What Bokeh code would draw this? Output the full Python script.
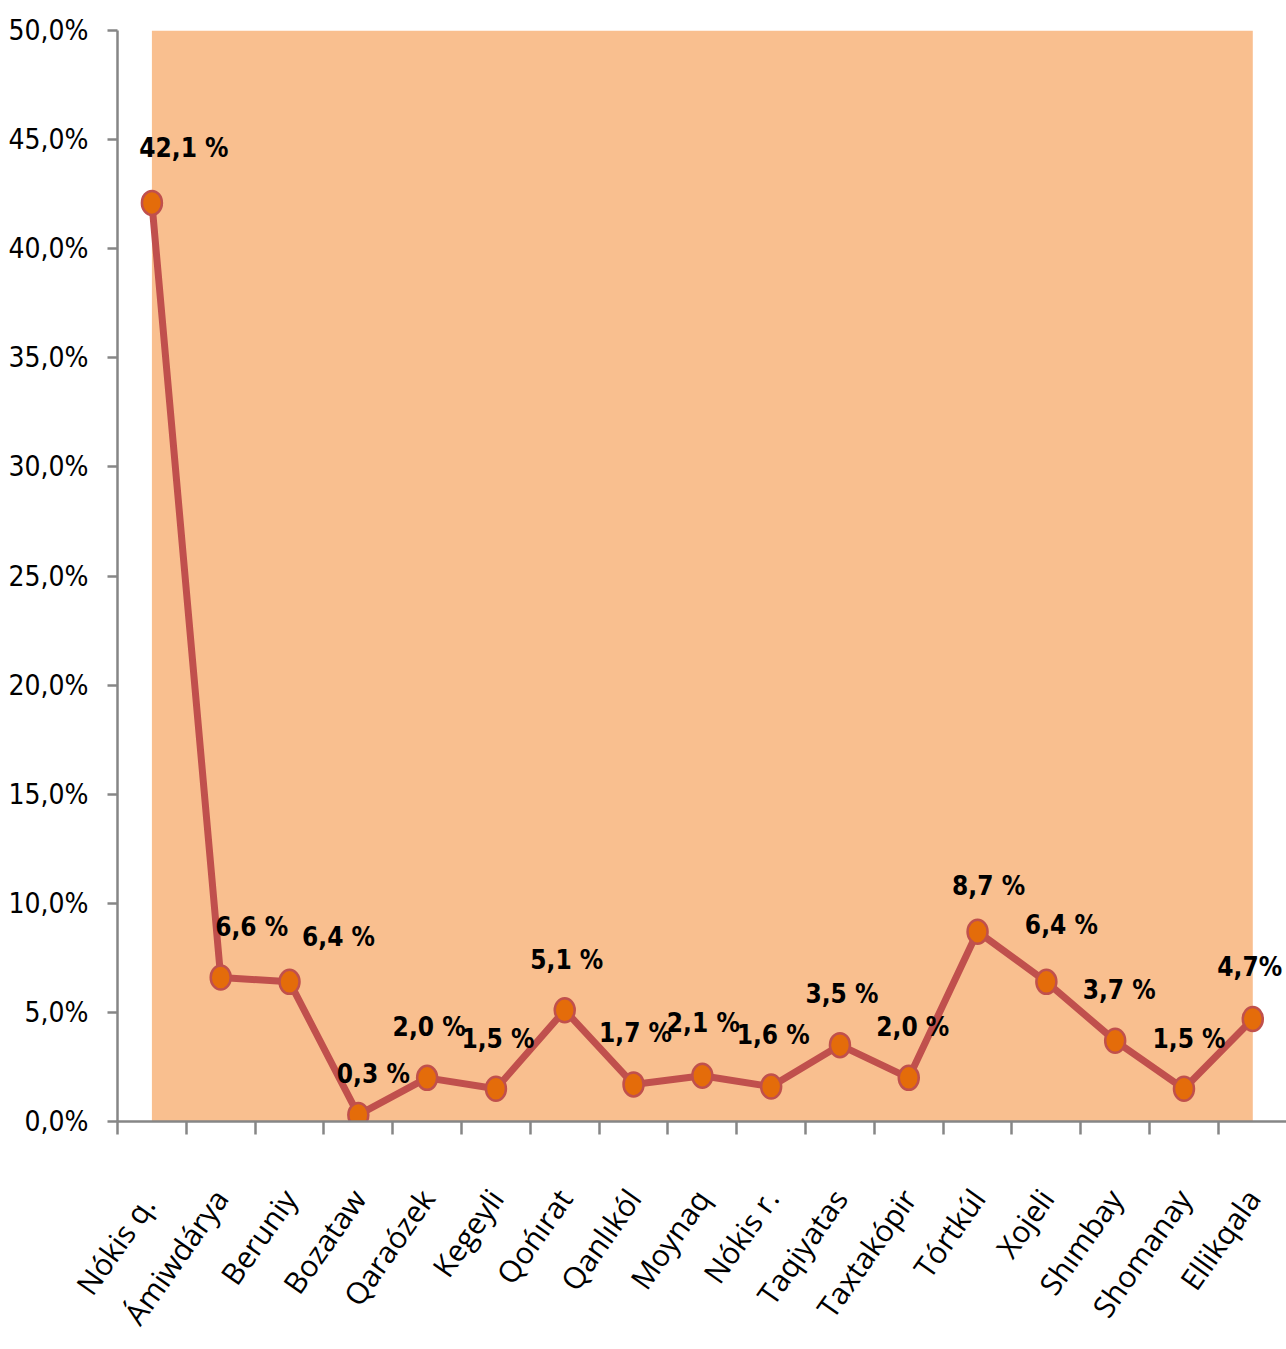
from bokeh.plotting import figure
from bokeh.models import Range1d, FixedTicker, ColumnDataSource
from bokeh.core.properties import value
from bokeh.embed import file_html
from bokeh.resources import INLINE
import math

# ---- data ----
districts = ["Nókis  q.", "Ámiwdárya", "Beruniy", "Bozataw", "Qaraózek", "Kegeyli",
             "Qońırat", "Qanlıkól", "Moynaq", "Nókis r.", "Taqiyatas", "Taxtakópir",
             "Tórtkúl", "Xojeli", "Shımbay", "Shomanay", "Ellikqala"]
shares = [42.1, 6.6, 6.4, 0.3, 2.0, 1.5, 5.1, 1.7, 2.1, 1.6, 3.5, 2.0, 8.7, 6.4, 3.7, 1.5, 4.7]
share_labels = ["42,1 %", "6,6 %", "6,4 %", "0,3 %", "2,0 %", "1,5 %", "5,1 %", "1,7 %",
                "2,1 %", "1,6 %", "3,5 %", "2,0 %", "8,7 %", "6,4 %", "3,7 %", "1,5 %", "4,7%"]
y_ticks = [0, 5, 10, 15, 20, 25, 30, 35, 40, 45, 50]
y_tick_labels = ["0,0%", "5,0%", "10,0%", "15,0%", "20,0%", "25,0%", "30,0%", "35,0%",
                 "40,0%", "45,0%", "50,0%"]

# ---- styles (label nudges in pixels) ----
label_dx = [32, 31, 49, 15, 2, 2, 2, 2, 1, 2, 2, 4, 11, 15, 4, 5, -3]
label_dy = [-55, -50, -45, -41, -51, -50, -50, -51, -53, -52, -51, -51, -46, -57, -51, -50, -52]

COND = "DejaVu Sans Condensed"
Y_MAX = y_ticks[-1]
idx = list(range(len(districts)))

src = ColumnDataSource(dict(x=idx, y=shares, lab=share_labels, dx=label_dx, dy=label_dy))

p = figure(width=1286, height=1349, output_backend="svg", toolbar_location=None,
           x_range=Range1d(-0.5, 16.49), y_range=Range1d(0, Y_MAX),
           min_border_left=117, min_border_top=30, min_border_right=0, min_border_bottom=228)
p.outline_line_color = None
p.grid.visible = False
p.background_fill_color = "white"

# peach area behind the series
p.varea(x=idx, y1=0, y2=Y_MAX, fill_color="#F9BF8F", fill_alpha=1.0)

p.line("x", "y", source=src, line_color="#C0504D", line_width=7)
p.ellipse("x", "y", source=src, width=20, height=24, width_units="screen", height_units="screen",
          fill_color="#E46C0A", line_color="#C0504D", line_width=2.5)

p.text("x", "y", text="lab", source=src, x_offset="dx", y_offset="dy",
       text_align="center", text_baseline="middle",
       text_font=value(COND), text_font_style="bold",
       text_font_size="26px", text_color="black")

# y axis
ya = p.yaxis[0]
ya.ticker = FixedTicker(ticks=y_ticks)
ya.major_label_overrides = {t: l for t, l in zip(y_ticks, y_tick_labels)}
ya.axis_line_color = "#868686"
ya.axis_line_width = 2.5
ya.major_tick_line_color = "#868686"
ya.major_tick_line_width = 2.5
ya.major_tick_out = 10
ya.major_tick_in = 0
ya.minor_tick_line_color = None
ya.major_label_standoff = 19
ya.major_label_text_font = COND
ya.major_label_text_font_size = "28px"
ya.major_label_text_color = "black"

# x axis: labels at centres, tick marks between categories
xa = p.xaxis[0]
xa.ticker = FixedTicker(ticks=idx, minor_ticks=[i - 0.5 for i in idx])
xa.major_label_overrides = {i: d for i, d in zip(idx, districts)}
xa.axis_line_color = "#868686"
xa.axis_line_width = 2.5
xa.major_tick_line_color = None
xa.major_tick_out = 0
xa.major_tick_in = 0
xa.minor_tick_line_color = "#868686"
xa.minor_tick_line_width = 2.5
xa.minor_tick_out = 13
xa.minor_tick_in = 0
xa.major_label_orientation = math.radians(55)
xa.major_label_standoff = 58
xa.major_label_text_font = "Open Sans"
xa.major_label_text_font_size = "30px"
xa.major_label_text_color = "black"

open("out.html", "w").write(file_html(p, INLINE))
